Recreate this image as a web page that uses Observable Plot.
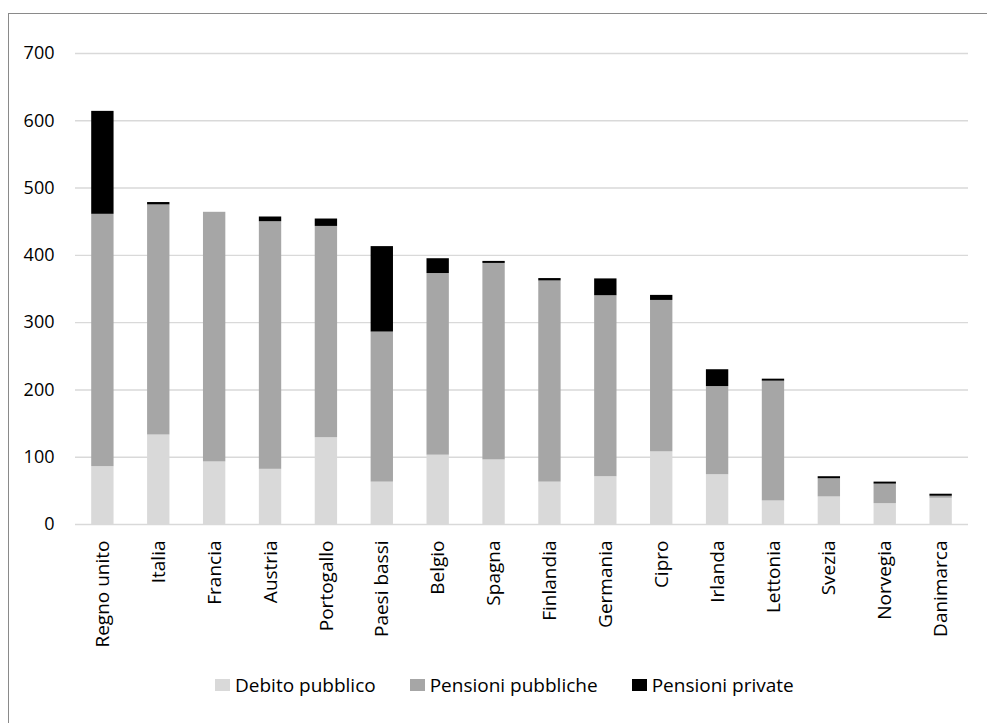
<!DOCTYPE html>
<html>
<head>
<meta charset="utf-8">
<script src="https://cdn.jsdelivr.net/npm/d3@7"></script>
<script src="https://cdn.jsdelivr.net/npm/@observablehq/plot@0.6"></script>
<style>
  html, body { margin: 0; padding: 0; background: #fff; }
  #wrap { position: relative; width: 987px; height: 723px; overflow: hidden; font-family: "Open Sans", sans-serif; }
  #frame { position: absolute; left: 8px; top: 13px; width: 1000px; height: 800px; border: 1px solid #8a8a8a; box-sizing: border-box; }
  #chart { position: absolute; left: 0; top: 0; }
  #legend { position: absolute; left: 215px; top: 672px; display: flex; align-items: center; font-size: 19px; color: #000; white-space: nowrap; }
  .item { display: flex; align-items: center; margin-right: 34px; }
  .sw { width: 15px; height: 12px; margin-right: 5px; }
</style>
</head>
<body>
<div id="wrap">
  <div id="frame"></div>
  <div id="chart"></div>
  <div id="legend"></div>
</div>
<script>
const countries = ["Regno unito","Italia","Francia","Austria","Portogallo","Paesi bassi","Belgio","Spagna","Finlandia","Germania","Cipro","Irlanda","Lettonia","Svezia","Norvegia","Danimarca"];
const series = ["Debito pubblico","Pensioni pubbliche","Pensioni private"];
const debitoPubblico    = [86, 133, 93, 82, 129, 63, 103, 96, 63, 71, 108, 74, 35, 41, 31, 39];
const pensioniPubbliche = [375, 342, 371, 368, 314, 223, 270, 292, 299, 269, 225, 131, 178, 27, 29, 3];
const pensioniPrivate   = [153, 3.5, 0, 7, 11, 127, 22, 3, 3.5, 25, 7.5, 25, 3, 3, 3, 3];
const yTicks = [0, 100, 200, 300, 400, 500, 600, 700];
const colors = ["#d9d9d9", "#a6a6a6", "#000000"];

const valuesBySeries = [debitoPubblico, pensioniPubbliche, pensioniPrivate];
const data = [];
series.forEach((s, si) => {
  countries.forEach((c, ci) => data.push({country: c, series: s, value: valuesBySeries[si][ci]}));
});

const chart = Plot.plot({
  width: 987,
  height: 660,
  marginLeft: 75,
  marginRight: 19,
  marginTop: 53,
  marginBottom: 136,
  style: {fontFamily: "Open Sans, sans-serif", color: "#000", background: "transparent"},
  x: {domain: countries, paddingInner: 0.6, paddingOuter: 0.29, round: false, label: null},
  y: {domain: [0, 700], label: null},
  color: {domain: series, range: colors},
  marks: [
    Plot.gridY(yTicks, {stroke: "#d9d9d9", strokeOpacity: 1, strokeWidth: 1.4}),
    Plot.barY(data, Plot.stackY({order: series}, {x: "country", y: "value", fill: "series"})),
    Plot.axisY(yTicks, {tickSize: 0, tickPadding: 21, fontSize: 18, label: null}),
    Plot.axisX({tickSize: 0, tickPadding: 16, tickRotate: -90, fontSize: 19, label: null})
  ]
});
document.getElementById("chart").appendChild(chart);

const legend = document.getElementById("legend");
series.forEach((s, i) => {
  const item = document.createElement("div");
  item.className = "item";
  const sw = document.createElement("span");
  sw.className = "sw";
  sw.style.background = colors[i];
  const t = document.createElement("span");
  t.textContent = s;
  item.appendChild(sw);
  item.appendChild(t);
  legend.appendChild(item);
});
</script>
</body>
</html>
